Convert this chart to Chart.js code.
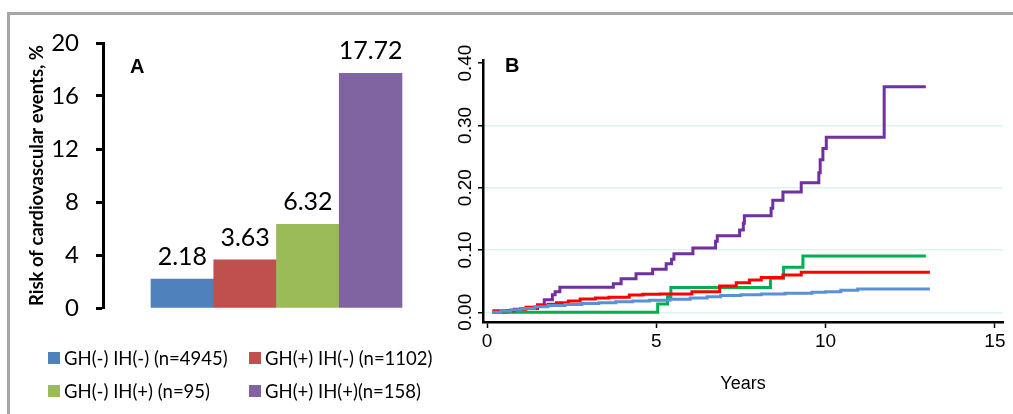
<!DOCTYPE html>
<html>
<head>
<meta charset="utf-8">
<script src="https://cdn.jsdelivr.net/npm/chart.js@4.4.1/dist/chart.umd.min.js"></script>
<style>
  html, body { margin: 0; padding: 0; background: #fff; }
  #wrap { position: relative; width: 1013px; height: 414px; overflow: hidden; }
  #frame { position: absolute; left: 7px; top: 12px; width: 1020px; height: 420px;
           border-top: 3px solid #a6a6a6; border-left: 3px solid #a6a6a6; }
  #chartA { position: absolute; left: 0; top: 0; }
  #chartB { position: absolute; left: 440px; top: 0; }
  .tag { position: absolute; font: bold 20px "Liberation Sans", Arial, sans-serif; line-height: 20px; color: #000; }
  .leg { position: absolute; height: 20px; display: flex; align-items: center;
         font: 18.5px Lato, sans-serif; line-height: 20px; color: #000; white-space: nowrap; }
  .leg span.box { display: inline-block; width: 12px; height: 12px; margin-right: 4px; }
</style>
</head>
<body>
<div id="wrap">
  <div id="frame"></div>
  <canvas id="chartA" width="440" height="414"></canvas>
  <canvas id="chartB" width="573" height="414"></canvas>
  <div class="tag" style="left:130px;top:56px;">A</div>
  <div class="tag" style="left:505px;top:55px;">B</div>
  <div id="legendA"></div>
</div>
<script>
// ---------- panel A: risk per group ----------
const groupLabels = ['GH(-) IH(-) (n=4945)', 'GH(+) IH(-) (n=1102)', 'GH(-) IH(+) (n=95)', 'GH(+) IH(+)(n=158)'];
const riskPct = [2.18, 3.63, 6.32, 17.72];
const barColors = ['#4f81bd', '#c0504d', '#9bbb59', '#8064a2'];
const riskTicks = [0, 4, 8, 12, 16, 20];

// ---------- panel B: cumulative incidence ----------
const yearTicks = [0, 5, 10, 15];
const probTicks = [0, 0.1, 0.2, 0.3, 0.4];

const tBlue = [0.16, 0.4, 0.7, 1.0, 1.4, 1.8, 2.3, 2.8, 3.3, 3.8, 4.3, 4.8, 5.4, 6.0, 6.5, 6.9, 7.5, 8.1, 8.8, 9.6, 10.0, 10.45, 10.95, 13.08];
const pBlue = [0, 0.002, 0.004, 0.006, 0.009, 0.011, 0.0125, 0.014, 0.0155, 0.017, 0.018, 0.0195, 0.021, 0.023, 0.025, 0.027, 0.028, 0.0295, 0.0305, 0.032, 0.033, 0.0355, 0.0375, 0.0375];

const tRed = [0.16, 0.8, 1.15, 1.5, 1.8, 2.05, 2.4, 2.75, 3.2, 3.6, 4.2, 4.6, 5.1, 6.05, 6.87, 7.36, 7.75, 8.1, 8.74, 9.28, 13.08];
const pRed = [0.0026, 0.005, 0.008, 0.011, 0.013, 0.0155, 0.018, 0.0214, 0.023, 0.024, 0.0278, 0.029, 0.0294, 0.0331, 0.042, 0.0476, 0.052, 0.056, 0.060, 0.0643, 0.0643];

const tGreen = [0.16, 5.04, 5.33, 5.43, 8.37, 8.76, 9.33, 12.96];
const pGreen = [0, 0.0133, 0.025, 0.0396, 0.0547, 0.0723, 0.0905, 0.0905];

const tPurple = [0.16, 0.6, 1.0, 1.49, 1.69, 1.93, 2.01, 2.15, 3.73, 3.96, 4.40, 4.89, 5.29, 5.45, 5.52, 6.08, 6.75, 6.80, 7.46, 7.57, 7.60, 8.39, 8.44, 8.74, 9.28, 9.80, 9.84, 9.92, 10.02, 11.73, 12.96];
const pPurple = [0, 0.003, 0.006, 0.012, 0.020, 0.028, 0.033, 0.040, 0.046, 0.054, 0.062, 0.069, 0.078, 0.085, 0.094, 0.103, 0.114, 0.123, 0.132, 0.143, 0.155, 0.167, 0.180, 0.193, 0.208, 0.224, 0.245, 0.263, 0.281, 0.362, 0.362];

const lineColors = ['#5b8fd8', '#ff0000', '#00b050', '#7030a0'];

// legenda em html, duas colunas
const leg = document.getElementById('legendA');
groupLabels.forEach((lab, i) => {
    const d = document.createElement('div');
    d.className = 'leg';
    d.style.left = (48 + (i % 2) * 201) + 'px';
    d.style.top = (348 + Math.floor(i / 2) * 33) + 'px';
    d.innerHTML = '<span class="box" style="background:' + barColors[i] + '"></span>' + lab;
    leg.appendChild(d);
});

// rotulos de valor acima das barras
const barValues = {
    id: 'barValues',
    afterDatasetsDraw(chart) {
        const ctx = chart.ctx;
        const meta = chart.getDatasetMeta(0);
        ctx.save();
        ctx.font = '25px Lato';
        ctx.fillStyle = '#000';
        ctx.textAlign = 'center';
        ctx.textBaseline = 'alphabetic';
        meta.data.forEach((bar, i) => {
            ctx.fillText(riskPct[i].toFixed(2), bar.x, bar.y - 14);
        });
        ctx.restore();
    }
};

new Chart(document.getElementById('chartA').getContext('2d'), {
    type: 'bar',
    data: {
        datasets: [{
            data: riskPct.map((v, i) => ({ x: i, y: v })),
            backgroundColor: barColors,
            borderWidth: 0,
            barPercentage: 1,
            categoryPercentage: 1
        }]
    },
    options: {
        responsive: false,
        animation: false,
        layout: { padding: { left: 0, right: 20, top: 43, bottom: 106 } },
        plugins: { legend: { display: false }, tooltip: { enabled: false } },
        scales: {
            x: {
                type: 'linear', min: -1.265, max: 3.787, offset: false,
                afterBuildTicks: s => { s.ticks = riskPct.map((_, i) => ({ value: i })); },
                afterFit: s => { s.height = 0; },
                grid: { display: false, offset: false },
                border: { display: false },
                ticks: { display: false }
            },
            y: {
                min: 0, max: 20,
                afterBuildTicks: s => { s.ticks = riskTicks.map(v => ({ value: v })); },
                afterFit: s => { s.width = 103; },
                border: { display: true, color: '#000', width: 3 },
                grid: { drawOnChartArea: false, tickLength: 7, tickWidth: 3, tickColor: '#000' },
                ticks: { color: '#000', font: { family: 'Lato', size: 24 }, padding: 17 },
                title: {
                    display: true, text: 'Risk of cardiovascular events, %', color: '#000',
                    font: { family: 'Lato', size: 18.5, weight: 'bold' },
                    padding: { top: 26, bottom: 0 }
                }
            }
        }
    },
    plugins: [barValues]
});

// rotulos do eixo y girados (0.00 ... 0.40)
const rotatedY = {
    id: 'rotatedY',
    afterDraw(chart) {
        const s = chart.scales.y, ctx = chart.ctx;
        ctx.save();
        ctx.font = '19px "Liberation Sans"';
        ctx.fillStyle = '#000';
        ctx.textAlign = 'center';
        ctx.textBaseline = 'middle';
        s.ticks.forEach(t => {
            const y = s.getPixelForValue(t.value);
            ctx.save();
            ctx.translate(26, y);
            ctx.rotate(-Math.PI / 2);
            ctx.fillText(t.value.toFixed(2), 0, 0);
            ctx.restore();
        });
        ctx.restore();
    }
};

const series = [[tBlue, pBlue], [tRed, pRed], [tGreen, pGreen], [tPurple, pPurple]];

new Chart(document.getElementById('chartB').getContext('2d'), {
    type: 'line',
    data: {
        datasets: series.map((s, k) => ({
            data: s[0].map((t, i) => ({ x: t, y: s[1][i] })),
            borderColor: lineColors[k],
            borderWidth: 3,
            stepped: 'before',
            pointRadius: 0,
            fill: false
        }))
    },
    options: {
        responsive: false,
        animation: false,
        layout: { padding: { left: 0, right: 10, top: 60, bottom: 0 } },
        plugins: { legend: { display: false }, tooltip: { enabled: false } },
        scales: {
            x: {
                type: 'linear', min: -0.12, max: 15.24,
                afterBuildTicks: s => { s.ticks = yearTicks.map(v => ({ value: v })); },
                afterFit: s => { s.height = 92; },
                border: { display: true, color: '#000', width: 2.5 },
                grid: { drawOnChartArea: false, tickLength: 6, tickWidth: 1.5, tickColor: '#000' },
                ticks: { color: '#000', font: { family: 'Liberation Sans', size: 19 }, padding: 2 },
                title: {
                    display: true, text: 'Years', color: '#000',
                    font: { family: 'Liberation Sans', size: 18 },
                    padding: { top: 0, bottom: 19 }
                }
            },
            y: {
                min: -0.0156, max: 0.405,
                afterBuildTicks: s => { s.ticks = probTicks.map(v => ({ value: v })); },
                afterFit: s => { s.width = 43; },
                border: { display: true, color: '#000', width: 2.5 },
                grid: {
                    color: c => (c.tick && c.tick.value > 0.35) ? 'rgba(0,0,0,0)' : '#dcf5ec',
                    lineWidth: 1.5, tickLength: 5, tickWidth: 1.5, tickColor: '#000'
                },
                ticks: { display: false }
            }
        }
    },
    plugins: [rotatedY]
});
</script>
</body>
</html>
